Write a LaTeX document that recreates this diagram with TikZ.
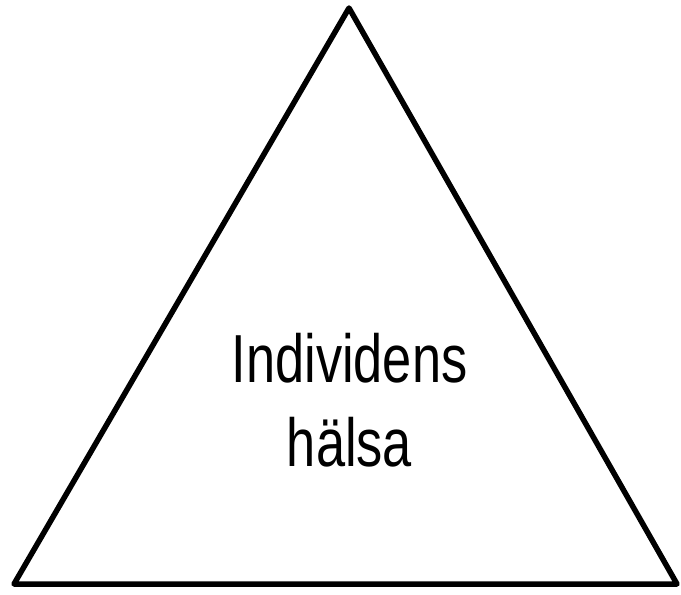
\documentclass[tikz,border=0pt]{standalone}
\usepackage{fontspec}
\setmainfont{Liberation Sans}
\begin{document}
\begin{tikzpicture}[x=1pt,y=-1pt,
  tri/.style={line width=5.5pt,line join=round,line cap=round},
  lbl/.style={anchor=base,inner sep=0pt,font=\fontsize{68}{84}\selectfont}]
\useasboundingbox (0,0) rectangle (681,595);
\coordinate (apex) at (349,8);
\coordinate (bl) at (14,584);
\coordinate (br) at (677,584);
\draw[tri] (apex) -- (br) -- (bl) -- cycle;
\node[lbl] (l1) at (349.5,382) {\scalebox{0.77}[1]{Individens}};
\node[lbl] (l2) at (349.5,466) {\scalebox{0.77}[1]{hälsa}};
\end{tikzpicture}
\end{document}
